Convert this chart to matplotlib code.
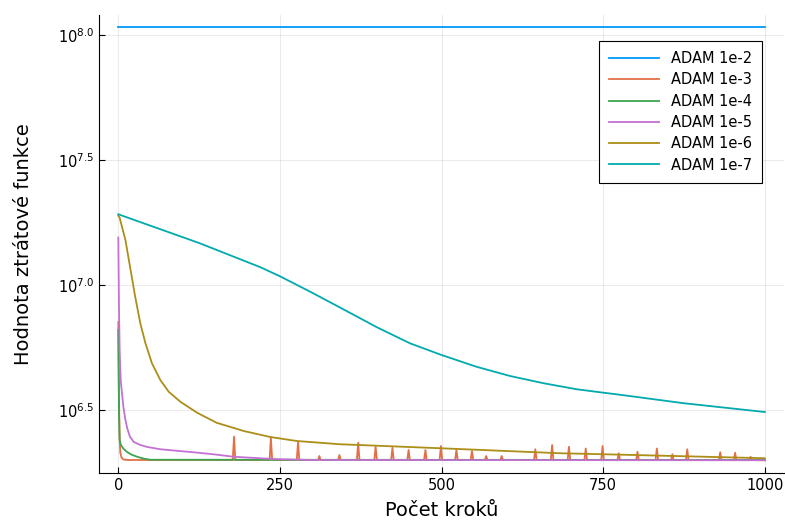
import matplotlib.pyplot as plt

# hodnoty jsou log10 ztraty
steps_1e2 = [0, 1000]
loss_1e2 = [8.031, 8.031]

steps_1e3 = [0, 1, 2, 3, 5, 8, 15, 1000]
loss_1e3 = [6.852, 6.55, 6.40, 6.33, 6.31, 6.302, 6.300, 6.299]

# spicky u ADAM 1e-3 (krok, log10 vrchol)
spike_steps = [179, 236, 278, 311, 342, 371, 398, 424, 449, 475, 499, 523, 547,
               569, 593, 645, 671, 697, 723, 749, 774, 803, 833, 857, 880, 931,
               954, 978]
spike_loss = [6.393, 6.387, 6.373, 6.316, 6.32, 6.369, 6.353, 6.349, 6.34, 6.34,
              6.356, 6.34, 6.336, 6.316, 6.316, 6.343, 6.36, 6.353, 6.346, 6.356,
              6.327, 6.333, 6.346, 6.323, 6.343, 6.331, 6.329, 6.313]

steps_1e4 = [0, 1, 2, 4, 8, 13, 20, 29, 40, 50, 1000]
loss_1e4 = [6.82, 6.50, 6.38, 6.36, 6.345, 6.333, 6.322, 6.313, 6.305, 6.301, 6.300]

steps_1e5 = [0, 1, 2, 3, 4, 6, 8, 11, 14, 18, 24, 34, 45, 65, 90, 116, 150, 178,
             240, 300, 1000]
loss_1e5 = [7.19, 6.92, 6.75, 6.66, 6.61, 6.56, 6.51, 6.46, 6.425, 6.393, 6.372,
            6.36, 6.352, 6.343, 6.337, 6.331, 6.322, 6.313, 6.304, 6.300, 6.299]

steps_1e6 = [0, 2, 11, 18, 26, 34, 42, 52, 65, 78, 96, 122, 152, 194, 235, 276,
             343, 498, 683, 750, 1000]
loss_1e6 = [7.277, 7.27, 7.18, 7.075, 6.955, 6.847, 6.767, 6.687, 6.62, 6.573,
            6.533, 6.489, 6.449, 6.416, 6.392, 6.376, 6.363, 6.347, 6.327, 6.323,
            6.307]

steps_1e7 = [0, 125, 220, 250, 297, 348, 400, 451, 500, 554, 606, 658, 709, 751,
             776, 875, 1000]
loss_1e7 = [7.283, 7.168, 7.071, 7.035, 6.973, 6.903, 6.831, 6.767, 6.72, 6.673,
            6.636, 6.607, 6.583, 6.569, 6.561, 6.527, 6.492]

labels = ["ADAM 1e-2", "ADAM 1e-3", "ADAM 1e-4", "ADAM 1e-5", "ADAM 1e-6", "ADAM 1e-7"]
colors = ["#009AFA", "#E36F47", "#3EA44E", "#C371D2", "#AC8E18", "#00AAAE"]

# vlozit spicky do rady 1e-3
pts = dict(zip(steps_1e3, loss_1e3))
for s, v in zip(spike_steps, spike_loss):
    pts[s - 2] = 6.300
    pts[s] = v
    pts[s + 2] = 6.300
xs = sorted(pts)
orange = (xs, [pts[k] for k in xs])

series = [
    (steps_1e2, loss_1e2),
    orange,
    (steps_1e4, loss_1e4),
    (steps_1e5, loss_1e5),
    (steps_1e6, loss_1e6),
    (steps_1e7, loss_1e7),
]

fig = plt.figure(figsize=(7.85, 5.2), dpi=100)
ax = fig.add_axes([0.126, 0.0904, 0.873, 0.8816])

for (x, y), lab, c in zip(series, labels, colors):
    ax.plot(x, [10 ** v for v in y], color=c, lw=1.3, label=lab)

ax.set_yscale("log")
ax.set_xlim(-30, 1030)
ax.set_ylim(10 ** 6.248, 10 ** 8.082)

yt = [6.5, 7.0, 7.5, 8.0]
ax.set_yticks([10 ** v for v in yt])
ax.set_yticklabels([r"$10^{%.1f}$" % v for v in yt])
ax.minorticks_off()
ax.set_xticks([0, 250, 500, 750, 1000])

ax.grid(True, color="black", alpha=0.08, lw=0.8)
ax.spines["top"].set_visible(False)
ax.spines["right"].set_visible(False)
ax.tick_params(direction="in", length=4, labelsize=10.5, colors="black")

ax.set_xlabel("Počet kroků", fontsize=14, labelpad=6)
ax.set_ylabel("Hodnota ztrátové funkce", fontsize=14, labelpad=18)

leg = ax.legend(loc="upper right", bbox_to_anchor=(0.9676, 0.9424), fontsize=10.5,
                handlelength=3.4, fancybox=False, framealpha=1, edgecolor="black",
                labelspacing=0.43, borderpad=0.7, borderaxespad=0)
leg.get_frame().set_linewidth(0.8)

fig.savefig("out.png", dpi=100)
